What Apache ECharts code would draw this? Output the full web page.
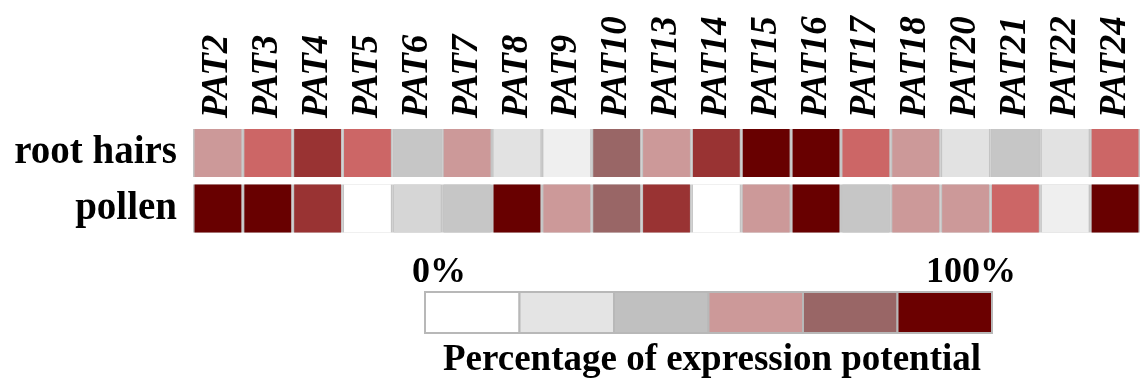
<!DOCTYPE html>
<html>
<head>
<meta charset="utf-8">
<style>
  html, body { margin: 0; padding: 0; background: #ffffff; }
  #chart { width: 1140px; height: 385px; }
</style>
<script src="https://cdn.jsdelivr.net/npm/echarts@6/dist/echarts.min.js"></script>
</head>
<body>
<div id="chart"></div>
<script>
// Genes (columns) and tissues (rows)
const genes = ['PAT2', 'PAT3', 'PAT4', 'PAT5', 'PAT6', 'PAT7', 'PAT8', 'PAT9', 'PAT10',
  'PAT13', 'PAT14', 'PAT15', 'PAT16', 'PAT17', 'PAT18', 'PAT20', 'PAT21', 'PAT22', 'PAT24'];
const tissues = ['root hairs', 'pollen'];

// Percentage of expression potential per gene
const rootHairs = [45, 70, 85, 70, 35, 45, 20, 10, 60, 45, 85, 95, 95, 70, 45, 20, 35, 20, 70];
const pollen    = [95, 95, 85, 0, 25, 35, 95, 45, 60, 85, 0, 45, 95, 35, 45, 45, 70, 10, 95];

// Colour classes of expression level
const levelPieces = [
  { min: 0,  max: 5,   color: '#ffffff' },
  { min: 5,  max: 15,  color: '#efefef' },
  { min: 15, max: 22,  color: '#e2e2e2' },
  { min: 22, max: 30,  color: '#d6d6d6' },
  { min: 30, max: 40,  color: '#c6c6c6' },
  { min: 40, max: 55,  color: '#cc9999' },
  { min: 55, max: 65,  color: '#996666' },
  { min: 65, max: 78,  color: '#cc6666' },
  { min: 78, max: 90,  color: '#993333' },
  { min: 90, max: 101, color: '#680000' }
];

// Scale key shown below the grid
const keyColors = ['#ffffff', '#e4e4e4', '#c0c0c0', '#cc9999', '#996666', '#6b0000'];
const keyLow = '0%';
const keyHigh = '100%';
const keyTitle = 'Percentage of expression potential';

const cells = [];
[rootHairs, pollen].forEach(function (row, r) {
  row.forEach(function (v, c) { cells.push([c, r, v]); });
});

const serif = '"Liberation Serif", "Times New Roman", serif';

const keyX = 425, keyY = 292, keyW = 94.5, keyH = 41;
const keyGraphics = keyColors.map(function (col, i) {
  return {
    type: 'rect',
    shape: { x: keyX + keyW * i, y: keyY, width: keyW, height: keyH },
    style: { fill: col, stroke: '#b8b8b8', lineWidth: 2 }
  };
});
keyGraphics.push(
  { type: 'text', style: { text: keyLow, x: 412, y: 273, font: 'bold 36px ' + serif, fill: '#000', align: 'left', verticalAlign: 'middle' } },
  { type: 'text', style: { text: keyHigh, x: 1016, y: 273, font: 'bold 36px ' + serif, fill: '#000', align: 'right', verticalAlign: 'middle' } },
  { type: 'text', style: { text: keyTitle, x: 712, y: 360, font: 'bold 37px ' + serif, fill: '#000', align: 'center', verticalAlign: 'middle' } }
);

const chart = echarts.init(document.getElementById('chart'));
chart.setOption({
  backgroundColor: '#ffffff',
  animation: false,
  grid: { left: 193, top: 125.25, width: 950, height: 111, containLabel: false },
  xAxis: {
    type: 'category',
    data: genes,
    position: 'top',
    axisLine: { show: false },
    axisTick: { show: false },
    splitLine: { show: false },
    axisLabel: {
      rotate: -90,
      margin: 7,
      interval: 0,
      fontFamily: serif,
      fontSize: 37,
      fontWeight: 'bold',
      fontStyle: 'italic',
      color: '#000'
    }
  },
  yAxis: {
    type: 'category',
    data: tissues,
    inverse: true,
    axisLine: { show: false },
    axisTick: { show: false },
    splitLine: { show: false },
    axisLabel: {
      margin: 16,
      fontFamily: serif,
      fontSize: 39,
      fontWeight: 'bold',
      color: '#000'
    }
  },
  visualMap: {
    type: 'piecewise',
    show: false,
    dimension: 2,
    seriesIndex: 0,
    pieces: levelPieces
  },
  series: [{
    type: 'custom',
    data: cells,
    encode: { x: 0, y: 1 },
    renderItem: function (params, api) {
      const p = api.coord([api.value(0), api.value(1)]);
      const s = api.size([1, 1]);
      const h = 48;
      const gap = 1.5;
      return {
        type: 'group',
        children: [
          {
            type: 'rect',
            shape: { x: p[0] - s[0] / 2, y: p[1] - h / 2, width: s[0], height: h },
            style: { fill: '#c4c4c4' }
          },
          {
            type: 'rect',
            shape: { x: p[0] - s[0] / 2 + gap, y: p[1] - h / 2, width: s[0] - 2 * gap, height: h },
            style: { fill: api.visual('color') }
          }
        ]
      };
    }
  }],
  graphic: keyGraphics
});
</script>
</body>
</html>
